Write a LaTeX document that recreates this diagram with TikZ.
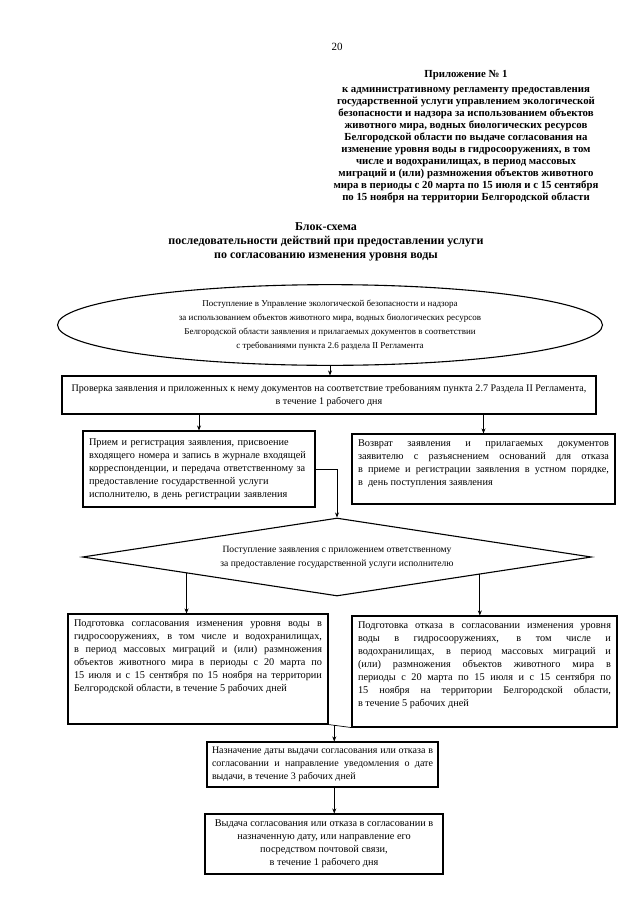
\documentclass[tikz,border=0pt]{standalone}
\usepackage{fontspec}
\setmainfont{Liberation Serif}
\usetikzlibrary{shapes.geometric,calc,arrows.meta}

\newcommand{\boxfont}{\fontsize{10.3}{13}\selectfont}
\newcommand{\toptext}[3]{\parbox[c][#1][t]{#2}{#3}}

\tikzset{
  box/.style={draw, line width=1.1pt, inner sep=6pt, font=\boxfont},
  startell/.style={ellipse, draw, line width=1.1pt, minimum width=545pt,
    minimum height=80pt, align=center, font=\fontsize{9}{14}\selectfont},
  decide/.style={diamond, draw, line width=1.1pt, minimum width=509pt,
    minimum height=78pt, aspect=6, align=center, font=\fontsize{9.6}{14}\selectfont},
  link/.style={line width=0.7pt}
}

\begin{document}
\begin{tikzpicture}[x=1pt,y=-1pt,>={Stealth[length=5pt,width=4pt]}]
  \useasboundingbox (0,0) rectangle (640,905);
  % page number and heading
  \node (pg) at (337,47) {\fontsize{11}{13}\selectfont 20};
  \node[align=center, font=\fontsize{10.8}{12}\selectfont\bfseries] (appx) at (466,137)
    {Приложение № 1\\[3pt]
     к административному регламенту предоставления\\
     государственной услуги управлением экологической\\
     безопасности и надзора за использованием объектов\\
     животного мира, водных биологических ресурсов\\
     Белгородской области по выдаче согласования на\\
     изменение уровня воды в гидросооружениях, в том\\
     числе и водохранилищах, в период массовых\\
     миграций и (или) размножения объектов животного\\
     мира в периоды с 20 марта по 15 июля и с 15 сентября\\
     по 15 ноября на территории Белгородской области};
  \node[align=center, font=\fontsize{12}{14}\selectfont\bfseries] (ttl) at (326,242)
    {Блок-схема\\
     последовательности действий при предоставлении услуги\\
     по согласованию изменения уровня воды};

  % flowchart
  \node[startell] (in) at (330,325)
    {Поступление в Управление экологической безопасности и надзора\\
     за использованием объектов животного мира, водных биологических ресурсов\\
     Белгородской области заявления и прилагаемых документов в соответствии\\
     с требованиями пункта 2.6 раздела II Регламента};
  \node[box, align=center, minimum width=534pt, minimum height=38pt,
    font=\fontsize{10.1}{13}\selectfont] (chk) at (329,395)
    {Проверка заявления и приложенных к нему документов на соответствие требованиям пункта 2.7 Раздела II Регламента,\\
     в течение 1 рабочего дня};
  \node[box, align=left, text width=220pt, minimum height=76pt] (reg) at (199,469)
    {Прием и регистрация заявления, присвоение\\
     входящего номера и запись в журнале входящей\\
     корреспонденции, и передача ответственному за\\
     предоставление государственной услуги\\
     исполнителю, в день регистрации заявления};
  \node[box] (ret) at (483.5,469)
    {\toptext{58pt}{251pt}{Возврат заявления и прилагаемых документов\linebreak
     заявителю с разъяснением оснований для отказа\linebreak
     в приеме и регистрации заявления в устном порядке,\linebreak
     в~ день поступления заявления}};
  \node[decide] (dia) at (337,557)
    {Поступление заявления с приложением ответственному\\
     за предоставление государственной услуги исполнителю};
  \node[box] (prep) at (198,669)
    {\toptext{98pt}{248pt}{Подготовка согласования изменения уровня воды в\linebreak
     гидросооружениях, в том числе и водохранилищах,\linebreak
     в период массовых миграций и (или) размножения\linebreak
     объектов животного мира в периоды с 20 марта по\linebreak
     15 июля и с 15 сентября по 15 ноября на территории\linebreak
     Белгородской области, в течение 5 рабочих дней}};
  \node[box] (rej) at (484.5,671.5)
    {\toptext{99pt}{253pt}{Подготовка отказа в согласовании изменения уровня\linebreak
     воды в гидросооружениях, в том числе и\linebreak
     водохранилищах, в период массовых миграций и\linebreak
     (или) размножения объектов животного мира в\linebreak
     периоды с 20 марта по 15 июля и с 15 сентября по\linebreak
     15 ноября на территории Белгородской области,\linebreak
     в течение 5 рабочих дней}};
  \node[box, align=justify, text width=221pt, inner sep=5pt, minimum height=45pt,
    font=\fontsize{10}{13}\selectfont] (date) at (322.5,764.5)
    {Назначение даты выдачи согласования или отказа в\linebreak
     согласовании и направление уведомления о дате\linebreak
     выдачи, в течение 3 рабочих дней};
  \node[box, align=center, minimum width=238pt, minimum height=58pt] (iss) at (324,844)
    {Выдача согласования или отказа в согласовании в\\
     назначенную дату, или направление его\\
     посредством почтовой связи,\\
     в течение 1 рабочего дня};

  % connectors
  \draw[link,->] (in.south) -- (in.south |- chk.north);
  \draw[link,->] (chk.south -| reg.north) -- (reg.north);
  \draw[link,->] (chk.south -| ret.north) -- (ret.north);
  \draw[link,->] (reg.east) -| (dia.north);
  \coordinate (dl) at ($(dia.west)!0.41!(dia.south)$);
  \draw[link,->] (dl) -- (dl |- prep.north);
  \coordinate (dr) at ($(dia.east)!0.44!(dia.south)$);
  \draw[link,->] (dr) -- (dr |- rej.north);
  \draw[link] (prep.south east) -- (rej.south west);
  \coordinate (jn) at ($(prep.south east)!0.25!(rej.south west)$);
  \draw[link,->] (jn) -- (jn |- date.north);
  \draw[link,->] (jn |- date.south) -- (jn |- iss.north);
\end{tikzpicture}
\end{document}
